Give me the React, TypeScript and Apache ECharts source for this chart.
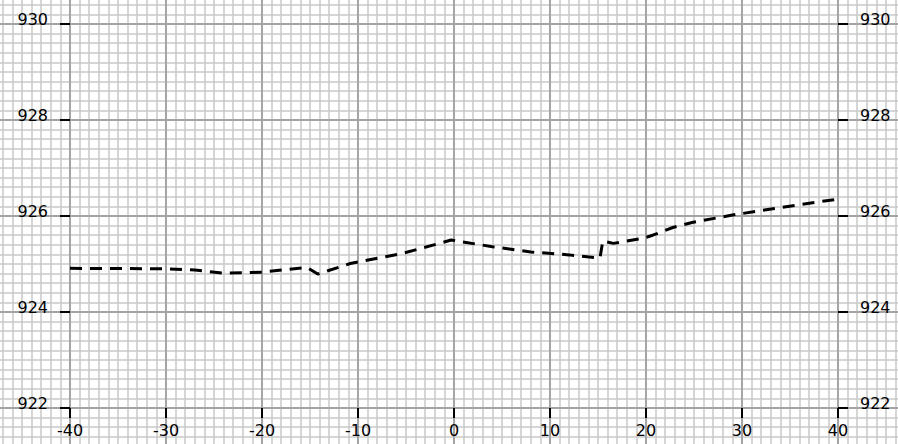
import React, { useEffect, useRef } from "react";
import * as echarts from "echarts";

// Profile data (x offset, elevation)
const xValues = [-40, -30, -27, -24, -20, -15.3, -14.2, -10.8, -5.6, -1.5, -0.3, 4, 8, 12, 15.2, 15.5, 16.6, 19.7, 20.7, 22.8, 24.9, 29, 33.2, 37.8, 40];
const yValues = [924.91, 924.9, 924.875, 924.81, 924.83, 924.93, 924.79, 925.01, 925.21, 925.43, 925.5, 925.36, 925.25, 925.19, 925.12, 925.48, 925.43, 925.535, 925.6, 925.76, 925.87, 926.02, 926.15, 926.29, 926.35];

const xTickLabels = [-40, -30, -20, -10, 0, 10, 20, 30, 40];
const yTickLabels = [922, 924, 926, 928, 930];

export default function App() {
  const ref = useRef<HTMLDivElement>(null);
  useEffect(() => {
    const chart = echarts.init(ref.current!, null, { renderer: "svg" });
    const xMin = xTickLabels[0];
    const xMax = xTickLabels[xTickLabels.length - 1];
    const xStep = xTickLabels[1] - xTickLabels[0];
    const yMin = yTickLabels[0];
    const yMax = yTickLabels[yTickLabels.length - 1];
    const yStep = yTickLabels[1] - yTickLabels[0];

    const labelStyle = { color: "#000", fontFamily: "DejaVu Sans", fontSize: 16 };
    const tickStyle = { show: true, length: 10, lineStyle: { color: "#000", width: 2 } };
    const hidden = { show: false };
    const noLine = { show: false, onZero: false };
    const minorColor = "#c8c8c8";
    const majorColor = "#a4a4a4";

    chart.setOption({
      animation: false,
      backgroundColor: "#fff",
      grid: [
        { left: 96, right: 96, top: 96, bottom: 96 },
        { left: 0, right: 0, top: 0, bottom: 0 },
      ],
      xAxis: [
        {
          type: "value", gridIndex: 0, min: xMin, max: xMax, interval: xStep, z: 3,
          axisLine: noLine, splitLine: hidden, axisTick: tickStyle,
          axisLabel: { ...labelStyle, margin: 14 },
        },
        {
          type: "value", gridIndex: 1, min: xMin - xStep, max: xMax + xStep, interval: 1, z: 0,
          axisLine: noLine, axisTick: hidden, axisLabel: hidden,
          splitLine: { show: true, lineStyle: { color: minorColor, width: 1.5 } },
        },
        {
          type: "value", gridIndex: 1, min: xMin - xStep, max: xMax + xStep, interval: xStep, z: 1,
          axisLine: noLine, axisTick: hidden, axisLabel: hidden,
          splitLine: { show: true, lineStyle: { color: majorColor, width: 2 } },
        },
      ],
      yAxis: [
        {
          type: "value", gridIndex: 0, position: "left", min: yMin, max: yMax, interval: yStep, z: 3,
          axisLine: noLine, splitLine: hidden, axisTick: tickStyle,
          axisLabel: { ...labelStyle, margin: 22, verticalAlign: "bottom", lineHeight: 10 },
        },
        {
          type: "value", gridIndex: 0, position: "right", min: yMin, max: yMax, interval: yStep, z: 3,
          axisLine: noLine, splitLine: hidden, axisTick: tickStyle,
          axisLabel: { ...labelStyle, margin: 22, verticalAlign: "bottom", lineHeight: 10 },
        },
        {
          type: "value", gridIndex: 1, min: yMin - yStep, max: yMax + yStep, interval: 0.2, z: 0,
          axisLine: noLine, axisTick: hidden, axisLabel: hidden,
          splitLine: { show: true, lineStyle: { color: minorColor, width: 1.5 } },
        },
        {
          type: "value", gridIndex: 1, min: yMin - yStep, max: yMax + yStep, interval: yStep, z: 1,
          axisLine: noLine, axisTick: hidden, axisLabel: hidden,
          splitLine: { show: true, lineStyle: { color: majorColor, width: 2 } },
        },
      ],
      series: [
        {
          type: "line",
          xAxisIndex: 0,
          yAxisIndex: 0,
          z: 5,
          showSymbol: false,
          symbol: "none",
          data: xValues.map((x, i) => [x, yValues[i]]),
          lineStyle: { color: "#000", width: 3, type: [12, 8] },
        },
      ],
    });
    return () => chart.dispose();
  }, []);
  return (
    <div
      ref={ref}
      style={{ position: "fixed", left: -26, top: -72, width: 960, height: 576, background: "#fff" }}
    />
  );
}
